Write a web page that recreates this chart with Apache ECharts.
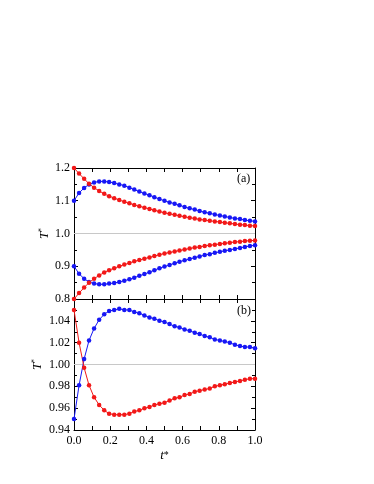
<!DOCTYPE html>
<html>
<head>
<meta charset="utf-8">
<script src="https://cdn.jsdelivr.net/npm/echarts@6/dist/echarts.min.js"></script>
<style>
  html, body { margin: 0; padding: 0; background: #fff; }
  #main { width: 374px; height: 484px; }
</style>
</head>
<body>
<div id="main"></div>
<script>
// reduced time t*, 37 samples
var tStar = [0.000, 0.028, 0.056, 0.083, 0.111, 0.139, 0.167, 0.194, 0.222, 0.250,
             0.278, 0.306, 0.333, 0.361, 0.389, 0.417, 0.444, 0.472, 0.500, 0.528,
             0.556, 0.583, 0.611, 0.639, 0.667, 0.694, 0.722, 0.750, 0.778, 0.806,
             0.833, 0.861, 0.889, 0.917, 0.944, 0.972, 1.000];

// panel (a)
var redUpperA = [1.200, 1.183, 1.167, 1.152, 1.140, 1.130, 1.121, 1.114, 1.108, 1.102,
                 1.097, 1.092, 1.087, 1.083, 1.079, 1.075, 1.071, 1.067, 1.063, 1.060,
                 1.057, 1.054, 1.051, 1.048, 1.046, 1.043, 1.041, 1.039, 1.037, 1.035,
                 1.033, 1.031, 1.029, 1.027, 1.026, 1.024, 1.023];
var blueUpperA = [1.100, 1.124, 1.139, 1.150, 1.156, 1.159, 1.159, 1.157, 1.154, 1.150,
                  1.146, 1.140, 1.134, 1.128, 1.122, 1.117, 1.111, 1.105, 1.100, 1.095,
                  1.091, 1.086, 1.081, 1.077, 1.073, 1.069, 1.065, 1.062, 1.058, 1.055,
                  1.052, 1.049, 1.046, 1.044, 1.041, 1.039, 1.037];
var redLowerA = [0.800, 0.818, 0.835, 0.850, 0.862, 0.872, 0.881, 0.888, 0.894, 0.900,
                 0.905, 0.910, 0.915, 0.919, 0.923, 0.927, 0.931, 0.935, 0.939, 0.942,
                 0.945, 0.948, 0.951, 0.954, 0.957, 0.959, 0.962, 0.964, 0.966, 0.968,
                 0.970, 0.972, 0.974, 0.975, 0.977, 0.978, 0.979];
var blueLowerA = [0.900, 0.877, 0.862, 0.852, 0.847, 0.845, 0.845, 0.847, 0.849, 0.852,
                  0.856, 0.860, 0.865, 0.871, 0.876, 0.882, 0.888, 0.894, 0.899, 0.904,
                  0.909, 0.914, 0.918, 0.922, 0.926, 0.930, 0.934, 0.937, 0.941, 0.944,
                  0.947, 0.950, 0.953, 0.956, 0.959, 0.962, 0.964];

// panel (b)
var redB = [1.050, 1.020, 0.997, 0.981, 0.970, 0.963, 0.958, 0.955, 0.954, 0.954,
            0.954, 0.955, 0.957, 0.958, 0.960, 0.961, 0.963, 0.964, 0.965, 0.967,
            0.969, 0.970, 0.972, 0.973, 0.975, 0.976, 0.977, 0.978, 0.980, 0.981,
            0.982, 0.983, 0.984, 0.985, 0.986, 0.987, 0.987];
var blueB = [0.950, 0.981, 1.005, 1.022, 1.033, 1.041, 1.046, 1.049, 1.050, 1.051,
             1.050, 1.050, 1.048, 1.047, 1.045, 1.043, 1.042, 1.040, 1.039, 1.037,
             1.035, 1.034, 1.032, 1.031, 1.029, 1.028, 1.026, 1.025, 1.023, 1.022,
             1.021, 1.020, 1.018, 1.017, 1.016, 1.016, 1.015];

var RED = '#f21818', BLUE = '#1717f5';
var FONT = 'Liberation Serif';

function pairs(ys) {
  return tStar.map(function (t, i) { return [t, ys[i]] })
}

function xAx(grid, pos, showLabels) {
  return {
    type: 'value', gridIndex: grid, position: pos, min: 0, max: 1, interval: 0.2,
    axisLine: { show: true, onZero: false, lineStyle: { color: '#000', width: 1 } },
    axisTick: { show: true, inside: true, length: 4, lineStyle: { color: '#000' } },
    minorTick: { show: true, splitNumber: 2, length: 4, lineStyle: { color: '#000' } },
    splitLine: { show: false },
    axisLabel: {
      show: showLabels, color: '#000', fontFamily: FONT, fontSize: 12, margin: 5,
      formatter: function (v) { return v.toFixed(1) }
    }
  }
}

function yAx(grid, pos, min, max, step, digits, showLabels, hideMax) {
  return {
    type: 'value', gridIndex: grid, position: pos, min: min, max: max, interval: step,
    axisLine: { show: true, onZero: false, lineStyle: { color: '#000', width: 1 } },
    axisTick: { show: true, inside: true, length: 4, lineStyle: { color: '#000' } },
    minorTick: { show: true, splitNumber: 2, length: 3, lineStyle: { color: '#000' } },
    splitLine: { show: false },
    axisLabel: {
      show: showLabels, color: '#000', fontFamily: FONT, fontSize: 12, margin: 4,
      showMaxLabel: !hideMax,
      formatter: function (v) { return v.toFixed(digits) }
    }
  }
}

var yName = {
  name: '{i|T}{s|*}', nameLocation: 'middle',
  nameTextStyle: {
    rich: {
      i: { fontFamily: FONT, fontStyle: 'italic', fontSize: 13, color: '#000' },
      s: { fontFamily: FONT, fontSize: 8, color: '#000', padding: [0, 0, 6, 0] }
    }
  }
};

var xAxes = [xAx(0, 'bottom', false), xAx(0, 'top', false), xAx(1, 'bottom', true), xAx(1, 'top', false)];
xAxes[2].name = '{i|t}{s|*}';
xAxes[2].nameLocation = 'middle';
xAxes[2].nameGap = 19;
xAxes[2].nameTextStyle = {
  rich: {
    i: { fontFamily: FONT, fontStyle: 'italic', fontSize: 13, color: '#000' },
    s: { fontFamily: FONT, fontSize: 10, color: '#000' }
  }
};

var yAxes = [
  yAx(0, 'left', 0.8, 1.2, 0.1, 1, true, false),
  yAx(0, 'right', 0.8, 1.2, 0.1, 1, false, false),
  yAx(1, 'left', 0.94, 1.06, 0.02, 2, true, true),
  yAx(1, 'right', 0.94, 1.06, 0.02, 2, false, false)
];
Object.assign(yAxes[0], yName, { nameGap: 22 });
Object.assign(yAxes[2], yName, { nameGap: 29 });

function line(name, ys, color, xi, yi, ref) {
  var s = {
    name: name, type: 'line', xAxisIndex: xi, yAxisIndex: yi,
    data: pairs(ys), symbol: 'circle', symbolSize: 4.5, showSymbol: true,
    lineStyle: { color: color, width: 1 }, itemStyle: { color: color },
    emphasis: { disabled: true }, z: 3
  };
  if (ref) {
    s.markLine = {
      silent: true, symbol: 'none', label: { show: false },
      lineStyle: { color: '#c8c8c8', width: 1, type: 'solid' },
      data: [{ yAxis: 1.0 }], z: 1
    };
  }
  return s
}

var chart = echarts.init(document.getElementById('main'), null, { renderer: 'canvas' });
chart.setOption({
  animation: false,
  backgroundColor: '#fff',
  grid: [
    { left: 74, top: 168, width: 181, height: 131 },
    { left: 74, top: 299, width: 181, height: 131 }
  ],
  xAxis: xAxes,
  yAxis: yAxes,
  graphic: [
    { type: 'text', left: 237, top: 173, style: { text: '(a)', font: '12px "Liberation Serif"', fill: '#000' } },
    { type: 'text', left: 237, top: 305, style: { text: '(b)', font: '12px "Liberation Serif"', fill: '#000' } }
  ],
  series: [
    line('blue upper', blueUpperA, BLUE, 0, 0, true),
    line('blue lower', blueLowerA, BLUE, 0, 0),
    line('red upper', redUpperA, RED, 0, 0),
    line('red lower', redLowerA, RED, 0, 0),
    line('blue b', blueB, BLUE, 2, 2, true),
    line('red b', redB, RED, 2, 2)
  ]
});
</script>
</body>
</html>
